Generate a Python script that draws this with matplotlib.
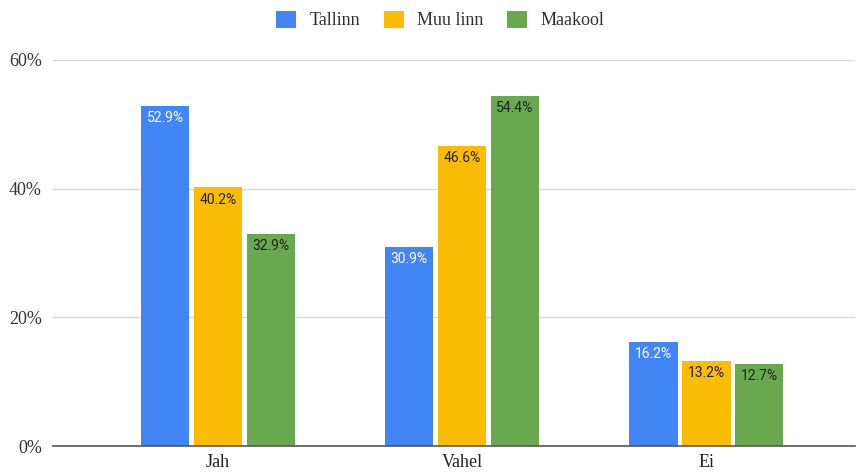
import matplotlib.pyplot as plt
import numpy as np

categories = ["Jah", "Vahel", "Ei"]
series_names = ["Tallinn", "Muu linn", "Maakool"]
tallinn = [52.9, 30.9, 16.2]
muu_linn = [40.2, 46.6, 13.2]
maakool = [32.9, 54.4, 12.7]
y_ticks = [0, 20, 40, 60]

colors = ["#4285F4", "#FBBC04", "#6AA84F"]
label_colors = ["white", "#222222", "#222222"]

fig = plt.figure(figsize=(8.58, 4.73), dpi=100)
ax = fig.add_axes([53 / 858, 1 - 446 / 473, (855 - 53) / 858, (446 - 60) / 473])

x = np.arange(len(categories))
width = 0.2
step = 0.217
serif = ["Liberation Serif", "DejaVu Serif"]

for i, (name, vals) in enumerate(zip(series_names, [tallinn, muu_linn, maakool])):
    pos = x + (i - 1) * step
    ax.bar(pos, vals, width=width, color=colors[i], label=name, zorder=3)
    for p, v in zip(pos, vals):
        ax.text(p, v - 0.8, f"{v:.1f}%", ha="center", va="top", fontsize=10,
                color=label_colors[i], family="Roboto", zorder=4)

ax.set_xlim(-0.676, 2.61)
ax.set_ylim(0, 60)
ax.set_yticks(y_ticks)
ax.set_yticklabels([f"{t}%" for t in y_ticks], family=serif, fontsize=13, color="#333333")
ax.set_xticks(x)
ax.set_xticklabels(categories, family=serif, fontsize=13, color="#222222")
ax.tick_params(length=0, pad=8)
ax.tick_params(axis="x", pad=6)
ax.grid(axis="y", color="#d9d9d9", linewidth=1, zorder=0)
for s in ["top", "right", "left"]:
    ax.spines[s].set_visible(False)
ax.spines["bottom"].set_color("#555555")
ax.spines["bottom"].set_linewidth(1.2)
ax.spines["bottom"].set_zorder(5)

leg = fig.legend(loc="center", bbox_to_anchor=(0.513, 1 - 20 / 473), ncol=3, frameon=False,
                 prop={"family": serif, "size": 13}, handlelength=1.1, handleheight=1.1,
                 columnspacing=1.3, handletextpad=0.75)
for t in leg.get_texts():
    t.set_color("#333333")

fig.savefig("out.png", dpi=100)
